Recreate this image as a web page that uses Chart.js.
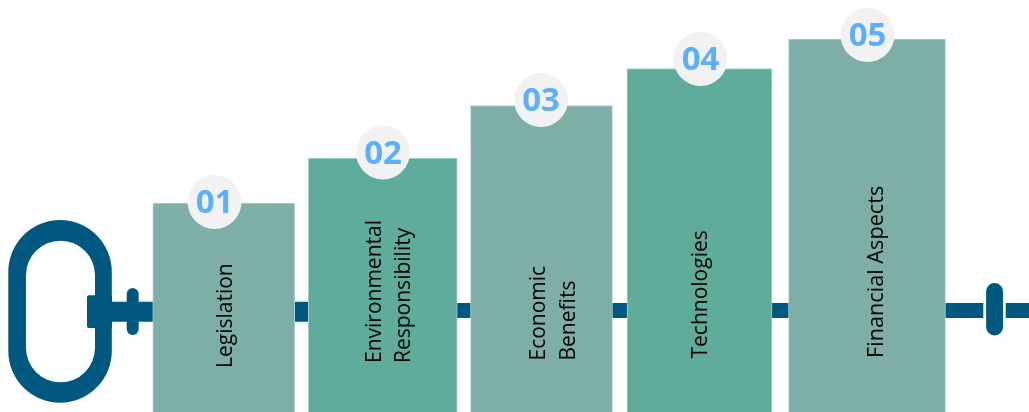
<!DOCTYPE html>
<html>
<head>
<meta charset="utf-8">
<title>Steps</title>
<script src="https://cdn.jsdelivr.net/npm/chart.js@4"></script>
<style>
html,body{margin:0;padding:0;background:#fff;overflow:hidden}
canvas{display:block}
</style>
</head>
<body>
<canvas id="chart" width="1029" height="412"></canvas>
<script>
// Step names, one text line per array entry
const categories = [
  ['Legislation'],
  ['Environmental', 'Responsibility'],
  ['Economic', 'Benefits'],
  ['Technologies'],
  ['Financial Aspects']
];
const stepNumbers = ['01', '02', '03', '04', '05'];
const stepHeights = [209, 254, 306.5, 343.5, 373];
const stepCentres = [223.75, 382.75, 541.5, 699.5, 867];
const stepWidths = [142, 149, 142, 145, 157];
const badgeCentres = [214.5, 383, 541, 700.5, 867.5];
const badgeLevels = [210, 259.5, 312, 353, 377];

const BLUE = '#005880';
const STEP_COLOURS = ['#7DAFA7', '#5FAC9A', '#7DAFA7', '#5FAC9A', '#7DAFA7'];
const STEP_EDGES = ['#B4D1CB', '#A9D2C7', '#B4D1CB', '#A9D2C7', '#B4D1CB'];

// Baseline offset, start level and font size of each rotated label
const labelLayout = [
  {offsets: [2], start: 44, size: 21},
  {offsets: [-8, 21], start: 49, size: 21},
  {offsets: [-2, 27.5], start: 51.5, size: 21},
  {offsets: [2], start: 53.5, size: 21},
  {offsets: [10], start: 54, size: 21.7}
];

const railSegment = (fromX, toX, level, width, order) => ({
  type: 'line',
  data: [{x: fromX, y: level}, {x: toX, y: level}],
  borderColor: BLUE,
  borderWidth: width,
  borderCapStyle: 'butt',
  pointRadius: 0,
  order
});
const stopper = (x, low, high, width) => ({
  type: 'line',
  data: [{x, y: low}, {x, y: high}],
  borderColor: BLUE,
  borderWidth: width,
  borderCapStyle: 'round',
  pointRadius: 0,
  order: 5
});

const stepBars = stepHeights.map((h, i) => ({
  type: 'bar',
  data: [{x: stepCentres[i], y: h}],
  backgroundColor: STEP_COLOURS[i],
  borderColor: STEP_EDGES[i],
  borderWidth: 1,
  borderSkipped: 'bottom',
  barThickness: stepWidths[i],
  grouped: false,
  order: 3
}));

const badges = {
  type: 'scatter',
  data: badgeCentres.map((x, i) => ({x, y: badgeLevels[i]})),
  backgroundColor: '#F2F2F2',
  borderWidth: 0,
  pointRadius: 27,
  pointHoverRadius: 27,
  clip: false,
  order: 1
};

// Ring at the left end of the rail, its coupling block, then the step texts on top
const decorations = {
  id: 'decorations',
  beforeDatasetsDraw(chart) {
    const {ctx, scales: {x, y}} = chart;
    const box = (l, r, top, bottom) => [x.getPixelForValue(l), y.getPixelForValue(top),
      x.getPixelForValue(r) - x.getPixelForValue(l), y.getPixelForValue(bottom) - y.getPixelForValue(top)];
    ctx.save();
    ctx.fillStyle = BLUE;
    ctx.beginPath();
    ctx.roundRect(...box(8.3, 111.8, 192, 9.3), 51.7);
    ctx.roundRect(...box(26, 95, 171.3, 29.7), 34.5);
    ctx.fill('evenodd');
    ctx.beginPath();
    ctx.roundRect(...box(87, 112, 116.7, 84), 2);
    ctx.fill();
    ctx.restore();
  },
  afterDatasetsDraw(chart) {
    const {ctx, scales: {x, y}} = chart;
    ctx.save();
    ctx.textBaseline = 'middle';
    ctx.fillStyle = '#5CAFFF';
    ctx.font = 'bold 33px "Open Sans"';
    ctx.textAlign = 'center';
    stepNumbers.forEach((n, i) => {
      ctx.fillText(n, x.getPixelForValue(badgeCentres[i]), y.getPixelForValue(badgeLevels[i]) + 2);
    });
    ctx.fillStyle = '#000';
    ctx.textAlign = 'left';
    categories.forEach((lines, i) => {
      ctx.font = labelLayout[i].size + 'px "Open Sans"';
      lines.forEach((line, j) => {
        ctx.save();
        ctx.translate(x.getPixelForValue(stepCentres[i]) + labelLayout[i].offsets[j],
                      y.getPixelForValue(labelLayout[i].start));
        ctx.rotate(-Math.PI / 2);
        ctx.fillText(line, 0, 0);
        ctx.restore();
      });
    });
    ctx.restore();
  }
};

new Chart(document.getElementById('chart'), {
  type: 'bar',
  data: {
    datasets: [
      railSegment(112, 312, 100.3, 20, 6),
      railSegment(450, 983.3, 101.5, 15, 6),
      railSegment(1005.7, 1029, 101.5, 15, 6),
      stopper(132.7, 83, 118, 12),
      stopper(994.6, 85, 120.5, 17),
      ...stepBars,
      badges
    ]
  },
  options: {
    responsive: false,
    animation: false,
    layout: {padding: 0, autoPadding: false},
    plugins: {legend: {display: false}, tooltip: {enabled: false}},
    scales: {
      x: {type: 'linear', min: 0, max: 1029, offset: false, display: false},
      y: {type: 'linear', min: 0, max: 412, display: false}
    }
  },
  plugins: [decorations]
});
</script>
</body>
</html>
